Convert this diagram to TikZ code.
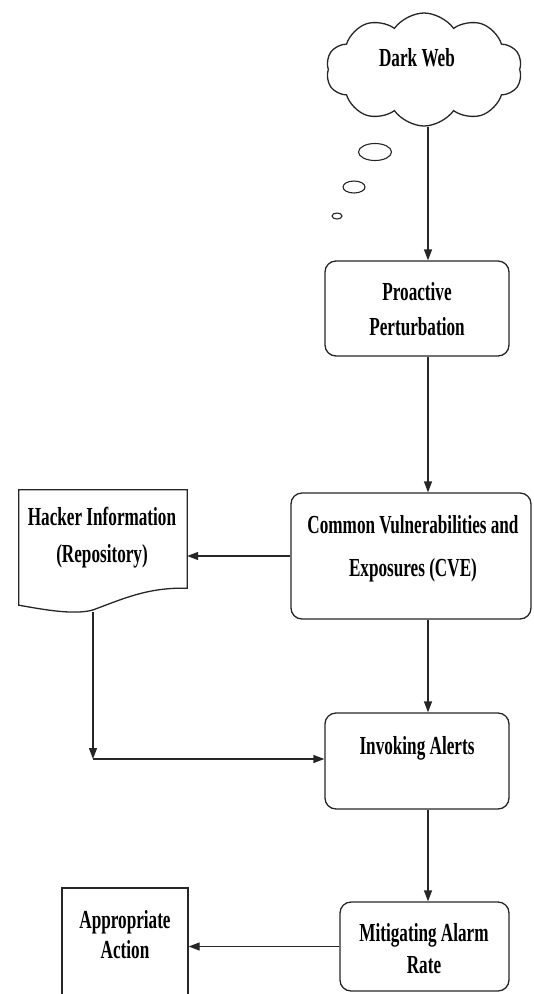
\documentclass[tikz,border=0pt]{standalone}
\usepackage{fontspec}
\setmainfont{Liberation Serif}[FakeStretch=0.66]
\usetikzlibrary{shapes.symbols,arrows.meta}
\tikzset{
  ln/.style={draw=black!85, line width=1.3pt},
  arr/.style={ln, -{Triangle[length=11pt,width=8pt]}},
  rbox/.style={ln, rounded corners=11pt, rectangle},
  sbox/.style={ln, rectangle},
  txt/.style={font=\bfseries\fontsize{26}{#1}\selectfont, align=center, inner sep=0pt},
  txt/.default=36
}
\begin{document}
\begin{tikzpicture}[x=1pt,y=1pt]
\path[use as bounding box, clip] (0,0) rectangle (534,-994);
\coordinate (spine) at (428,0);
% cloud
\node[cloud, cloud puffs=10, cloud puff arc=110, cloud ignores aspect, ln,
      minimum width=196pt, minimum height=113pt, inner sep=0pt] (dw) at (424,-69.5) {};
\node[txt] (dwt) at (417,-58) {Dark Web};
\draw[ln, line width=1.1pt] (375,-152) ellipse (16.5 and 8.5);
\draw[ln, line width=1.1pt] (354,-187) ellipse (11 and 6);
\draw[ln, line width=1.1pt] (337,-216) ellipse (5 and 3);
% boxes
\node[rbox, minimum width=184pt, minimum height=95pt] (pp) at (417,-308.5) {};
\node[txt=35] (ppt) at (417,-309.5) {Proactive\\Perturbation};
\node[rbox, minimum width=240pt, minimum height=126pt] (cve) at (411,-556) {};
\node[txt=43] (cvet) at (413,-548.5) {Common Vulnerabilities and\\Exposures (CVE)};
\node[rbox, minimum width=184pt, minimum height=96pt] (inv) at (417,-761) {};
\node[txt] (invt) at (417,-748) {Invoking Alerts};
\node[rbox, minimum width=169pt, minimum height=89pt] (mit) at (424.5,-946.5) {};
\node[txt=32] (mitt) at (424,-949) {Mitigating Alarm\\Rate};
\node[sbox, minimum width=126pt, minimum height=122pt] (app) at (125,-949) {};
\node[txt=30] (appt) at (125,-935) {Appropriate\\Action};
% document shape
\node[minimum width=168pt, minimum height=123pt, inner sep=0pt] (hk) at (103,-551.5) {};
\draw[ln] (hk.north west) -- (hk.north east) -- ([yshift=25pt]hk.south east)
  .. controls ([xshift=-40pt,yshift=26pt]hk.south east) and ([xshift=-65pt,yshift=14pt]hk.south east) .. ([xshift=-95pt,yshift=3pt]hk.south east)
  .. controls ([xshift=-115pt,yshift=-2pt]hk.south east) and ([xshift=-145pt,yshift=4pt]hk.south east) .. ([yshift=8pt]hk.south west)
  -- cycle;
\node[txt=37] (hkt) at (102,-537.5) {Hacker Information\\(Repository)};
% connectors
\draw[arr] (dw.south -| spine) -- (pp.north -| spine);
\draw[arr] (pp.south -| spine) -- (cve.north -| spine);
\draw[arr] (cve.south -| spine) -- (inv.north -| spine);
\draw[arr] (inv.south -| spine) -- (mit.north -| spine);
\draw[arr] (cve.west) -- (cve.west -| hk.east);
\coordinate (corner) at (93,-759);
\draw[arr] ([yshift=1pt]hk.south -| corner) -- (corner);
\draw[arr] (corner) -- (corner -| inv.west);
\draw[arr] (mit.west) -- (mit.west -| app.east);
\end{tikzpicture}
\end{document}
